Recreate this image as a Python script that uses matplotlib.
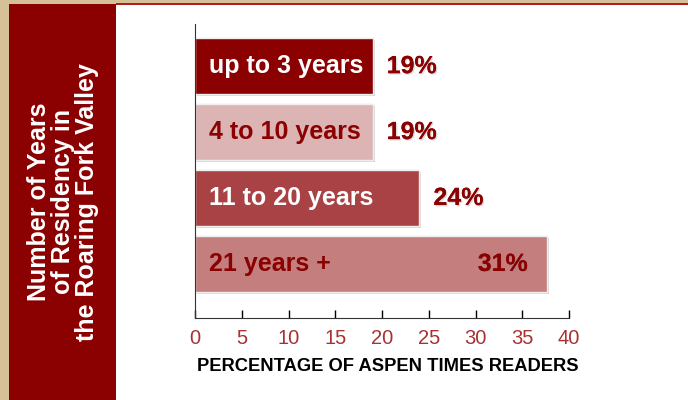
import matplotlib.pyplot as plt
import matplotlib.patches as mpatches
import matplotlib.patheffects as pe

# data
categories = ['up to 3 years', '4 to 10 years', '11 to 20 years', '21 years +']
bar_lengths = [19.0, 19.0, 24.0, 37.6]
value_labels = ['19%', '19%', '24%', '31%']
bar_colors = ['#8b0000', '#dcb4b4', '#a84244', '#c47e7e']
cat_text_colors = ['white', '#8b0000', 'white', '#8b0000']
xticks = [0, 5, 10, 15, 20, 25, 30, 35, 40]

plt.rcParams['font.family'] = ['Liberation Sans', 'DejaVu Sans']

fig = plt.figure(figsize=(6.88, 4.0), dpi=100)
fig.patch.set_facecolor('#d6c097')

# background panels
fig.patches.append(mpatches.Rectangle((9/688, 0), 107/688, 396/400, transform=fig.transFigure,
                                      facecolor='#8b0000', edgecolor='none', zorder=-2))
fig.patches.append(mpatches.Rectangle((116/688, 0), 572/688, 395/400, transform=fig.transFigure,
                                      facecolor='white', edgecolor='none', zorder=-2))
fig.patches.append(mpatches.Rectangle((116/688, 395/400), 572/688, 1.5/400, transform=fig.transFigure,
                                      facecolor='#b01e1e', edgecolor='none', zorder=-2))

fig.text(63/688, 1 - 202/400, 'Number of Years\nof Residency in\nthe Roaring Fork Valley',
         rotation=90, ha='center', va='center', color='white', fontsize=18,
         fontweight='bold', linespacing=1.0)

ax = fig.add_axes([195/688, 82/400, 374/688, 294/400])
ax.set_facecolor('none')

ypos = list(range(len(categories)))
shadow = [pe.withSimplePatchShadow(offset=(1.5, -1.5), shadow_rgbFace='#999999', alpha=0.4), pe.Normal()]
bars = ax.barh(ypos, bar_lengths, height=0.85, color=bar_colors, edgecolor='#eeeeee', linewidth=1.0)
for b in bars:
    b.set_path_effects(shadow)

txt_shadow = [pe.withSimplePatchShadow(offset=(1, -1), shadow_rgbFace='#888888', alpha=0.3), pe.Normal()]
for y, cat, val, lab, tc in zip(ypos, categories, bar_lengths, value_labels, cat_text_colors):
    ax.text(1.5, y, cat, ha='left', va='center', color=tc, fontsize=18, fontweight='bold')
    if val > 30:
        ax.text(val - 2.0, y, lab, ha='right', va='center', color='#8b0000', fontsize=18,
                fontweight='bold', path_effects=txt_shadow)
    else:
        ax.text(val + 1.5, y, lab, ha='left', va='center', color='#8b0000', fontsize=18,
                fontweight='bold', path_effects=txt_shadow)

ax.set_xlim(0, 40)
ax.set_ylim(3.82, -0.64)
ax.set_xticks(xticks)
ax.set_yticks([])
ax.tick_params(axis='x', direction='in', length=6, width=1, color='black',
               labelcolor='#a83232', labelsize=14.5, pad=8)
for s in ['top', 'right']:
    ax.spines[s].set_visible(False)
ax.spines['left'].set_color('#333333')
ax.spines['bottom'].set_color('#333333')
ax.set_xlabel('PERCENTAGE OF ASPEN TIMES READERS', fontsize=13.2, fontweight='bold',
              color='black', labelpad=7)
ax.xaxis.label.set_x(0.516)

fig.savefig('out.png', dpi=100, facecolor=fig.get_facecolor())
